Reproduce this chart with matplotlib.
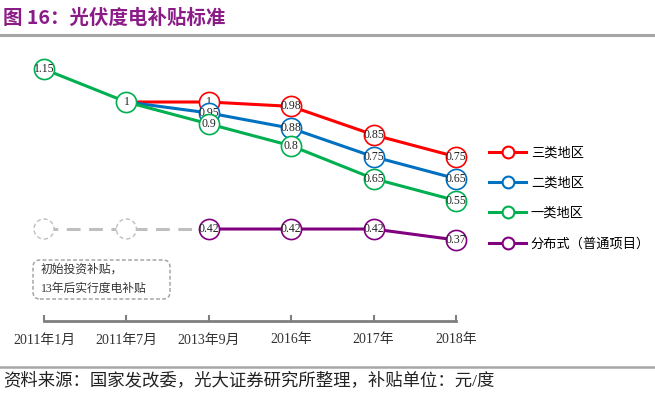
import numpy as np
import matplotlib.pyplot as plt
from matplotlib.lines import Line2D
from matplotlib.patches import FancyBboxPatch, Circle
from matplotlib.transforms import ScaledTranslation, IdentityTransform

plt.rcParams['font.family'] = ['Liberation Serif', 'Noto Sans CJK SC']

# data
periods = ['2011年1月', '2011年7月', '2013年9月', '2016年', '2017年', '2018年']
nan = np.nan
region3 = [nan, 1, 1, 0.98, 0.85, 0.75]
region2 = [nan, 1, 0.95, 0.88, 0.75, 0.65]
region1 = [1.15, 1, 0.9, 0.8, 0.65, 0.55]
distributed = [nan, nan, 0.42, 0.42, 0.42, 0.37]
init_level = [0.42, 0.42, 0.42]   # initial-investment era placeholder
series_names = ['三类地区', '二类地区', '一类地区', '分布式（普通项目）']
colors = ['#FF0000', '#0070C0', '#00B050', '#800080']

W, H = 655, 395
fig = plt.figure(figsize=(W / 100, H / 100), dpi=100)

# axes placed so that x 0..5 -> px 44..456 and y 0 -> px 321
xpu = (456 - 44) / 5
ypu = 219
left_px, right_px = 20, 480
bot_px, top_px = 321, 50
ax = fig.add_axes([left_px / W, 1 - bot_px / H, (right_px - left_px) / W, (bot_px - top_px) / H])
ax.set_xlim(-(44 - left_px) / xpu, 5 + (right_px - 456) / xpu)
ax.set_ylim(0, (bot_px - top_px) / ypu)

x = np.arange(len(periods))

# gray placeholder (before per-kWh subsidy)
ax.plot(x[:3], init_level, color='#BFBFBF', lw=2.2, dashes=(4.5, 2.8), zorder=1)
for i in range(2):
    tr = fig.dpi_scale_trans + ScaledTranslation(x[i], init_level[i], ax.transData)
    ax.add_patch(Circle((0, 0), 0.1, transform=tr, fc='white', ec='#BFBFBF',
                        lw=1.0, ls=(0, (3, 2)), zorder=2))

lines = [region3, region2, region1, distributed]
for k, (vals, c) in enumerate(zip(lines, colors)):
    z = 3 + k * 2
    ax.plot(x, vals, color=c, lw=2.2, zorder=z, solid_capstyle='butt')
    for xi, v in zip(x, vals):
        if np.isnan(v):
            continue
        if k < 2 and xi == 1:
            continue
        ax.plot(xi, v, 'o', ms=14.5, mfc='white', mec=c, mew=1.2, zorder=z + 0.5)
        ax.text(xi, v, f'{v:g}', ha='center', va='center', fontsize=8.5,
                color='#222222', zorder=z + 1)

ax.set_xticks(x)
ax.set_xticklabels(periods, fontsize=10, color='#333333')
ax.tick_params(axis='x', direction='in', length=4, width=1.5, color='#7F7F7F', pad=9)
ax.set_yticks([])
for s in ['left', 'right', 'top']:
    ax.spines[s].set_visible(False)
ax.spines['bottom'].set_bounds(0, 5)
ax.spines['bottom'].set_color('#7F7F7F')
ax.spines['bottom'].set_linewidth(2)
ax.patch.set_alpha(0)

# annotation box (pixel coords)
box = FancyBboxPatch((33, H - 299), 137, 39, boxstyle='round,pad=0,rounding_size=7',
                     transform=IdentityTransform(), fill=False, ec='#A6A6A6', lw=1.1,
                     ls=(0, (2.5, 1.5)))
fig.add_artist(box)
fig.text(41 / W, 1 - 270 / H, '初始投资补贴，', fontsize=8.5, va='center', ha='left', color='#333333')
fig.text(41 / W, 1 - 289 / H, '13年后实行度电补贴', fontsize=8.5, va='center', ha='left', color='#333333')

# legend
handles = [Line2D([0], [0], color=c, lw=2.2, marker='o', ms=8.5, mfc='white', mec=c, mew=1.5)
           for c in colors]
fig.legend(handles, series_names, loc='upper left', bbox_to_anchor=(484 / W, 1 - 142 / H),
           frameon=False, fontsize=9.5, handlelength=2.8, handletextpad=0.35,
           labelspacing=1.35, borderaxespad=0)

# title, rules, source
fig.text(3 / W, 1 - 18 / H, '图 16：光伏度电补贴标准', fontsize=14, fontweight='bold',
         color='#8B1C87', va='center', ha='left', family=['Noto Sans CJK SC'])
fig.add_artist(Line2D([0, 1], [1 - 35 / H] * 2, color='#A6A6A6', lw=2.2, transform=fig.transFigure))
fig.add_artist(Line2D([0, 1], [1 - 367 / H] * 2, color='#A6A6A6', lw=1.8, transform=fig.transFigure))
fig.text(3 / W, 1 - 381 / H, '资料来源：国家发改委，光大证券研究所整理，补贴单位：元/度',
         fontsize=12.5, color='#222222', va='center', ha='left')

fig.savefig('out.png', dpi=100)
